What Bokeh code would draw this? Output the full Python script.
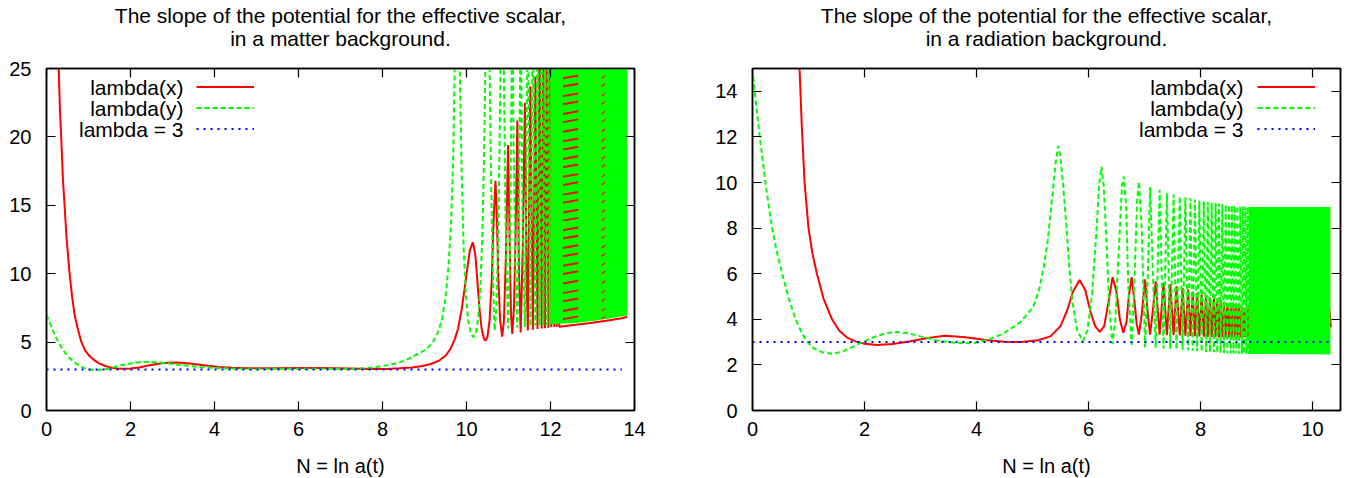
from bokeh.plotting import figure
from bokeh.models import (Range1d, LinearAxis, FixedTicker, Legend, LegendItem,
                          Label, Title, CustomJSTickFormatter)
from bokeh.layouts import row
from bokeh.embed import file_html
from bokeh.resources import INLINE

FONT = "Liberation Sans"
RED, GREEN, BLUE = "#ff0000", "#00ff00", "#0000ff"

# ---- matter background (left) ----
mx_n = [0.26, 0.29, 0.32, 0.35, 0.39, 0.43, 0.48, 0.55, 0.61, 0.67, 0.75, 0.83, 0.92,
        1.02, 1.13, 1.25, 1.40, 1.55, 1.70, 1.85, 2.00, 2.20, 2.45, 2.70, 2.90, 3.10,
        3.35, 3.60, 3.85, 4.10, 4.40, 4.80, 5.40, 6.00, 6.60, 7.20, 7.70, 8.10, 8.40,
        8.70, 8.95, 9.15, 9.35, 9.50, 9.62, 9.72, 9.80, 9.88, 9.95, 10.02, 10.08,
        10.15, 10.21, 10.26, 10.31, 10.36, 10.41, 10.45, 10.50, 10.55, 10.60, 10.64,
        10.69, 10.72, 10.76, 10.80, 10.85, 10.89, 10.94, 10.99, 11.03, 11.06, 11.09,
        11.13, 11.17, 11.21, 11.25, 11.29, 11.34, 11.39, 11.43, 11.46, 11.52, 11.58,
        11.64, 11.69, 11.74, 11.79, 11.83, 11.87, 11.91, 11.95, 11.98, 12.02, 12.05,
        12.09, 12.12, 12.15, 12.18, 12.21, 12.60, 13.00, 13.40, 13.70, 13.83]
mx_v = [30, 25, 22, 20, 17, 15, 12.5, 10, 8.3, 7.0, 5.9, 5.0, 4.4,
        4.0, 3.7, 3.45, 3.25, 3.13, 3.07, 3.05, 3.07, 3.15, 3.3, 3.43, 3.49, 3.5,
        3.46, 3.37, 3.27, 3.18, 3.12, 3.08, 3.08, 3.1, 3.1, 3.07, 3.03, 3.04, 3.08,
        3.15, 3.25, 3.4, 3.65, 4.0, 4.5, 5.2, 6.0, 7.3, 8.8, 10.4, 11.7,
        12.3, 11.4, 9.4, 7.4, 6.0, 5.3, 5.1, 5.4, 6.6, 9.5, 13.5,
        16.8, 14.5, 9.5, 6.6, 5.4, 6.5, 11.5, 19.4, 12, 7, 5.6,
        7.5, 13, 21.2, 10, 5.7, 12, 22.5, 10, 5.85, 23.7, 5.9,
        24.4, 5.95, 27, 6.0, 28, 6.02, 28, 6.05, 28, 6.08, 28,
        6.1, 28, 6.12, 28, 6.13, 6.27, 6.42, 6.6, 6.75, 6.85]

my_n = [0.00, 0.08, 0.16, 0.25, 0.35, 0.45, 0.55, 0.65, 0.78, 0.90, 1.02, 1.15, 1.30,
        1.45, 1.60, 1.80, 2.00, 2.20, 2.40, 2.60, 2.85, 3.10, 3.40, 3.70, 4.00, 4.50,
        5.20, 6.00, 6.80, 7.40, 7.80, 8.10, 8.40, 8.62, 8.85, 9.05, 9.20, 9.32, 9.42,
        9.50, 9.57, 9.63, 9.68, 9.72, 9.78, 9.84, 9.88, 9.93, 9.98, 10.04, 10.10,
        10.16, 10.22, 10.28, 10.33, 10.38, 10.42, 10.45, 10.50, 10.55, 10.58, 10.62,
        10.65, 10.67, 10.71, 10.75, 10.79, 10.81, 10.85, 10.89, 10.93, 10.99, 11.03,
        11.06, 11.09, 11.12, 11.16, 11.21, 11.25, 11.29, 11.33, 11.39, 11.46, 11.52,
        11.58, 11.64, 11.69, 11.74, 11.79, 11.83, 11.87, 11.91, 11.95, 11.98, 12.02,
        12.05, 12.09, 12.12, 12.15, 12.18]
my_v = [7.0, 6.4, 5.8, 5.2, 4.65, 4.2, 3.85, 3.55, 3.28, 3.1, 3.0, 2.95, 2.97,
        3.05, 3.17, 3.32, 3.44, 3.52, 3.55, 3.53, 3.46, 3.37, 3.26, 3.17, 3.11, 3.06,
        3.05, 3.06, 3.05, 3.05, 3.15, 3.3, 3.5, 3.78, 4.15, 4.5, 5.0, 5.7, 6.7,
        8.2, 10.5, 13.5, 18, 25, 30, 25, 18, 12, 8.6, 6.6, 5.7,
        5.36, 5.6, 6.8, 9.0, 13, 19, 25, 30, 25, 18, 11,
        7.5, 5.85, 7.5, 12, 20, 25, 30, 25, 14, 6.0, 11,
        20, 30, 20, 11, 6.05, 15, 30, 15, 6.1, 30, 6.15,
        30, 6.2, 30, 6.2, 30, 6.22, 30, 6.25, 30, 6.25, 30,
        6.28, 30, 6.3, 30, 6.3]

# solid green region where the oscillations merge
m_band_n = [12.0, 12.60, 13.00, 13.40, 13.83]
m_band_lo = [6.3, 6.4, 6.55, 6.72, 6.95]
m_band_hi = [25, 25, 25, 25, 25]

# red streaks showing through the green region
m_streak_v = [24.4, 23.8, 23.1, 22.5, 21.8, 21.2, 20.5, 19.8, 19.2, 18.5, 17.9, 17.2,
              16.6, 15.9, 15.3, 14.6, 14.0, 13.3, 12.7, 12.0, 11.4, 10.7, 10.1, 9.4,
              8.7, 8.1, 7.4, 6.8]
m_streak_n0 = [12.30, 13.22]
m_streak_n1 = [12.66, 13.30]

m_three_n = [0.0, 13.7]
m_three_v = [3, 3]

# ---- radiation background (right) ----
rx_n = [0.80, 0.84, 0.88, 0.93, 1.00, 1.07, 1.15, 1.27, 1.42, 1.55, 1.69, 1.85, 2.00,
        2.23, 2.50, 2.80, 3.10, 3.44, 3.80, 4.20, 4.50, 4.80, 5.10, 5.32, 5.50, 5.62,
        5.72, 5.84, 5.94, 6.04, 6.12, 6.20, 6.28, 6.36, 6.43, 6.50, 6.56, 6.62, 6.68,
        6.72, 6.77, 6.82, 6.86, 6.90, 6.95, 7.01, 7.06, 7.10, 7.15, 7.20, 7.24, 7.27,
        7.34, 7.40, 7.46, 7.52, 7.57, 7.63, 7.68, 7.73, 7.78, 7.82, 7.86, 7.90, 7.94,
        7.98, 8.02, 8.06, 8.10, 8.13, 8.17, 8.20, 8.24, 8.27, 8.30, 8.33, 8.36, 8.39,
        8.42, 8.45, 8.48, 8.51, 8.54, 8.56, 8.59, 8.61, 8.64, 8.66, 8.69, 8.71, 8.74,
        8.76, 8.78, 8.80, 8.82, 8.84, 8.86, 8.88, 9.50, 10.30, 10.33]
rx_v = [17, 15, 12.5, 10, 8, 6.9, 6.0, 4.9, 4.0, 3.5, 3.2, 3.02, 2.93,
        2.87, 2.92, 3.03, 3.17, 3.28, 3.21, 3.08, 3.02, 3.0, 3.08, 3.25, 3.7, 4.4,
        5.2, 5.72, 5.3, 4.3, 3.7, 3.45, 3.7, 4.8, 5.85, 5.2, 4.0, 3.41, 3.9,
        5.0, 5.85, 4.8, 3.8, 3.33, 4.2, 5.75, 4.2, 3.33, 4.4, 5.67, 4.3, 3.33,
        5.6, 3.3, 5.53, 3.3, 5.45, 3.29, 5.38, 3.28, 5.3, 3.27, 5.22, 3.26, 5.15,
        3.25, 5.08, 3.24, 5.0, 3.23, 4.95, 3.22, 4.9, 3.21, 4.85, 3.2, 4.8, 3.2,
        4.75, 3.2, 4.7, 3.2, 4.66, 3.2, 4.62, 3.2, 4.58, 3.2, 4.55, 3.2, 4.52,
        3.2, 4.5, 3.2, 4.48, 3.2, 4.46, 3.2, 4.2, 4.5, 3.65]

ry_n = [0.00, 0.06, 0.13, 0.23, 0.35, 0.44, 0.53, 0.65, 0.77, 0.88, 0.98, 1.10, 1.25,
        1.42, 1.60, 1.80, 1.96, 2.20, 2.40, 2.58, 2.80, 3.00, 3.30, 3.60, 3.94, 4.20,
        4.47, 4.78, 5.01, 5.12, 5.20, 5.27, 5.32, 5.37, 5.42, 5.46, 5.50, 5.55, 5.59,
        5.65, 5.71, 5.80, 5.90, 5.98, 6.06, 6.14, 6.19, 6.23, 6.27, 6.32, 6.37, 6.43,
        6.48, 6.55, 6.60, 6.63, 6.67, 6.71, 6.77, 6.81, 6.87, 6.90, 6.95, 7.01, 7.06,
        7.10, 7.15, 7.20, 7.27, 7.34, 7.40, 7.46, 7.52, 7.57, 7.63, 7.68, 7.73, 7.78,
        7.82, 7.86, 7.90, 7.94, 7.98, 8.02, 8.06, 8.10, 8.13, 8.17, 8.20, 8.24, 8.27,
        8.30, 8.33, 8.36, 8.39, 8.42, 8.45, 8.48, 8.51, 8.54, 8.56, 8.59, 8.61, 8.64,
        8.66, 8.69, 8.71, 8.74, 8.76, 8.78, 8.80, 8.82, 8.84, 8.86, 8.88, 8.90]
ry_v = [15.0, 13.5, 12.0, 10.0, 8.0, 6.9, 6.0, 4.9, 4.0, 3.4, 3.0, 2.72, 2.55,
        2.49, 2.58, 2.8, 3.0, 3.25, 3.4, 3.44, 3.38, 3.25, 3.07, 2.97, 2.95, 3.1,
        3.36, 3.87, 4.53, 5.3, 6.29, 7.4, 8.6, 9.8, 11.0, 11.6, 11.1, 9.8, 8.6,
        6.5, 4.82, 3.5, 3.04, 3.5, 5.0, 7.8, 9.9, 10.7, 9.9, 7.5, 4.5, 2.92,
        4.0, 7.5, 9.9, 10.26, 9.0, 5.5, 2.88, 5.0, 9.3, 10.04, 8.0, 2.78, 6.0,
        9.8, 6.0, 2.75, 9.68, 2.72, 9.53, 2.7, 9.47, 2.68, 9.39, 2.66, 9.35, 2.64,
        9.31, 2.62, 9.25, 2.6, 9.2, 2.58, 9.17, 2.57, 9.14, 2.56, 9.12, 2.55, 9.1,
        2.54, 9.07, 2.53, 9.05, 2.52, 9.03, 2.51, 9.01, 2.5, 9.0, 2.5, 8.98, 2.5,
        8.96, 2.49, 8.95, 2.49, 8.94, 2.49, 8.93, 2.49, 8.93, 2.48, 8.93, 2.48]

r_band_n = [8.86, 9.20, 9.60, 10.00, 10.32]
r_band_lo = [2.48, 2.48, 2.47, 2.47, 2.46]
r_band_hi = [8.93, 8.93, 8.92, 8.92, 8.92]

r_three_n = [0.0, 10.3]
r_three_v = [3, 3]

labels = ["lambda(x)", "lambda(y)", "lambda = 3"]
title_line1 = "The slope of the potential for the effective scalar,"


def panel(subtitle, xmax, ymax, xticks, yticks, border_left, border_right):
    p = figure(frame_width=588, frame_height=342, output_backend="svg",
               toolbar_location=None, title=None,
               x_range=Range1d(0, xmax), y_range=Range1d(0, ymax),
               min_border_left=border_left, min_border_right=border_right,
               min_border_top=68, min_border_bottom=66)
    p.grid.visible = False
    p.outline_line_color = "black"
    p.outline_line_width = 1.5
    p.background_fill_color = "white"

    for ax, ticks in ((p.xaxis[0], xticks), (p.yaxis[0], yticks)):
        ax.ticker = FixedTicker(ticks=ticks)
        ax.major_tick_in = 9
        ax.major_tick_out = 0
        ax.minor_tick_line_color = None
        ax.axis_line_width = 1.5
        ax.major_tick_line_width = 1.2
        ax.major_label_text_font = FONT
        ax.major_label_text_font_size = "20px"
        ax.major_label_text_color = "black"
    p.yaxis.major_label_standoff = 15
    p.xaxis.major_label_standoff = 11
    p.xaxis.axis_label = "N = ln a(t)"
    p.xaxis.axis_label_text_font = FONT
    p.xaxis.axis_label_text_font_size = "20px"
    p.xaxis.axis_label_text_font_style = "normal"
    p.xaxis.axis_label_text_color = "black"
    p.xaxis.axis_label_standoff = 16

    # mirrored ticks on top and right, as gnuplot draws them
    blank = CustomJSTickFormatter(code="return ''")
    for side, ticks in (("above", xticks), ("right", yticks)):
        ax = LinearAxis(ticker=FixedTicker(ticks=ticks), formatter=blank,
                        major_tick_in=9, major_tick_out=0, minor_tick_line_color=None,
                        axis_line_width=1.5, major_tick_line_width=1.2,
                        major_label_standoff=0, major_label_text_font_size="0px")
        p.add_layout(ax, side)

    # empty spacer, then the two centred title lines (first added sits nearest the frame)
    p.add_layout(Title(text=" ", text_font_size="1px", standoff=16), "above")
    for text, gap in ((subtitle, 0), (title_line1, -4)):
        p.add_layout(Title(text=text, align="center", text_font=FONT,
                           text_font_size="21px", text_font_style="normal",
                           text_color="black", standoff=gap), "above")
    return p


def legend(p, renderers, x_sample, x_text):
    items = [LegendItem(label=" ", renderers=[r]) for r in renderers]
    lg = Legend(items=items, location=(x_sample, 271.5), glyph_width=58, glyph_height=21,
                label_height=21, label_width=0, label_standoff=0, spacing=0, padding=0,
                margin=0, background_fill_alpha=0, border_line_color=None,
                label_text_font_size="1px")
    p.add_layout(lg)
    for i, t in enumerate(labels):
        p.add_layout(Label(x=x_text, y=323.5 - 21 * i, x_units="screen", y_units="screen",
                           text=t, text_align="right", text_baseline="middle",
                           text_font=FONT, text_font_size="21px", text_color="black"))


left = panel("in a matter background.",
             14, 25, [0, 2, 4, 6, 8, 10, 12, 14], [0, 5, 10, 15, 20, 25], 46, 52)
ra = left.line(mx_n, mx_v, color=RED, line_width=2)
ga = left.line(my_n, my_v, color=GREEN, line_width=2, line_dash="5 3")
left.varea(x=m_band_n, y1=m_band_lo, y2=m_band_hi, fill_color=GREEN)
for n0, n1 in zip(m_streak_n0, m_streak_n1):
    left.segment(x0=[n0] * len(m_streak_v), y0=[v - 0.12 for v in m_streak_v],
                 x1=[n1] * len(m_streak_v), y1=[v + 0.08 for v in m_streak_v],
                 color=RED, line_width=2 if n0 < 13 else 1.2)
ba = left.line(m_three_n, m_three_v, color=BLUE, line_width=2, line_dash="2 5")
legend(left, [ra, ga, ba], 150, 137)

right = panel("in a radiation background.",
              10.5, 15, [0, 2, 4, 6, 8, 10], [0, 2, 4, 6, 8, 10, 12, 14], 66, 2)
rb = right.line(rx_n, rx_v, color=RED, line_width=2)
gb = right.line(ry_n, ry_v, color=GREEN, line_width=2, line_dash="5 3")
right.varea(x=r_band_n, y1=r_band_lo, y2=r_band_hi, fill_color=GREEN)
bb = right.line(r_three_n, r_three_v, color=BLUE, line_width=2, line_dash="2 5")
legend(right, [rb, gb, bb], 505, 491)

layout = row(left, right)
open("out.html", "w").write(file_html(layout, INLINE, "slope of the potential"))
